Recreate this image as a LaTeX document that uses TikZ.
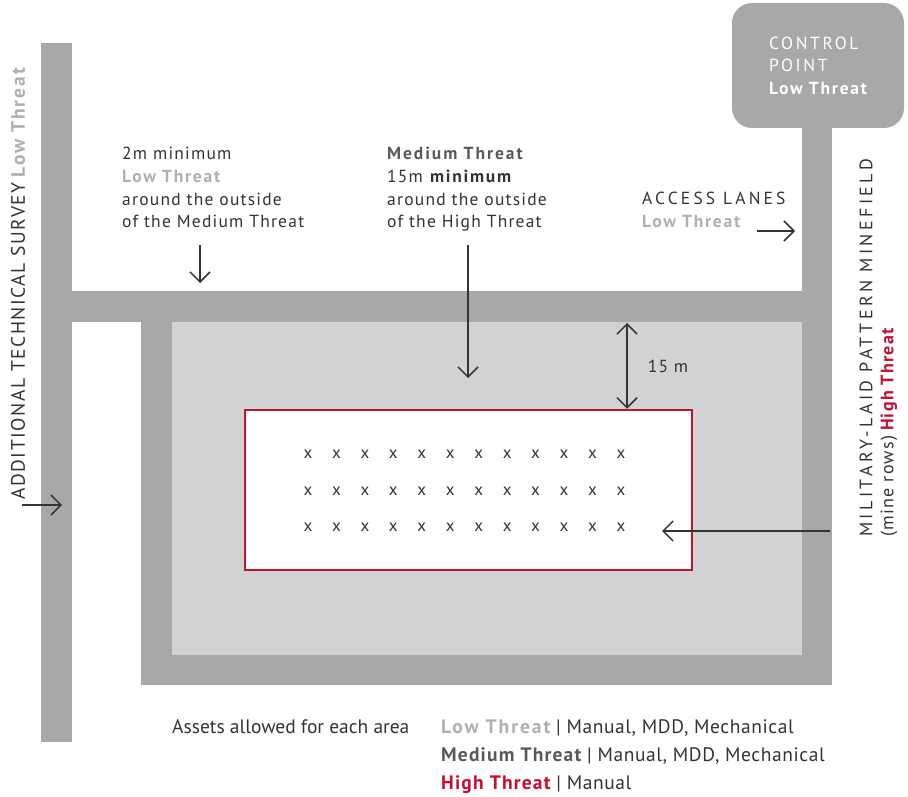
\documentclass[tikz,border=0pt]{standalone}
\usepackage{fontspec}
\setmainfont{PT Sans}
\usetikzlibrary{positioning, arrows.meta}
\definecolor{mgray}{HTML}{A7A8AA}
\definecolor{mlight}{HTML}{D1D2D4}
\definecolor{mred}{HTML}{C8102E}
\definecolor{mtext}{HTML}{333333}
\definecolor{mlow}{HTML}{AEB0B2}
\definecolor{mmed}{HTML}{58595B}
\newcommand{\spaced}[2]{{\addfontfeature{LetterSpace=#1}#2}}
\newcommand{\lowthreat}{\textcolor{mlow}{\bfseries\spaced{10}{Low Threat}}}
\tikzset{
  >={Straight Barb[length=10pt,width=20pt,line width=1.5pt]}, % open arrow heads
  band/.style={fill=mgray},
  light zone/.style={fill=mlight},
  cp box/.style={fill=mgray,rounded corners=20pt,minimum width=172,minimum height=125,
    text=white,align=left,font=\fontsize{17.5}{22.5}\selectfont},
  high zone/.style={draw=mred,fill=white,line width=2.5pt,minimum width=447,minimum height=160},
  label text/.style={text=mtext,align=left,font=\fontsize{17.5}{22.7}\selectfont\addfontfeature{LetterSpace=7}},
  side text/.style={text=mtext,rotate=90,anchor=west,font=\fontsize{18}{22}\selectfont},
  legend text/.style={text=mtext,align=left,font=\fontsize{19.5}{28}\selectfont\addfontfeature{LetterSpace=3}},
  mine/.style={text=mtext,font=\fontsize{17}{17}\selectfont},
  pointer/.style={->,line width=1.5pt,mtext}
}

\begin{document}
\begin{tikzpicture}[x=1pt, y=-1pt, every node/.style={inner sep=0pt}]
  \useasboundingbox (0,0) rectangle (908,797);

  % Lanes and zones
  \fill[band] (41,43) rectangle (72,742);
  \fill[band] (72,291) rectangle (832,322);
  \fill[band] (141,322) rectangle (832,685);
  \fill[light zone] (172,322) rectangle (802,655);
  \fill[band] (802,110) rectangle (832,322);
  \node[cp box] (cp) at (818,65.5)
    {\spaced{15}{CONTROL}\\\spaced{15}{POINT}\\{\bfseries\spaced{10}{Low Threat}}};

  % High threat area with mine rows
  \node[high zone] (hi) at (468.5,490) {};
  \foreach \row [count=\r] in {454,491,527}
    \foreach \c in {0,...,11}
      \node[mine] (m-\r-\c) at ({308+28.45*\c},\row) {x};

  % Labels
  \node[label text, anchor=north west] (lowtxt) at (122,147)
    {2m minimum\\\lowthreat\\around the outside\\of the Medium Threat};
  \node[label text, anchor=north west] (medtxt) at (387,147)
    {\textcolor{mmed}{\bfseries\spaced{11}{Medium Threat}}\\15m \textbf{\spaced{10}{minimum}}\\around the outside\\of the High Threat};
  \node[label text, anchor=north west] (access) at (642,192)
    {\spaced{18}{ACCESS LANES}\\\lowthreat};
  \node[label text] (gap) at (668,366) {15 m};
  \node[side text] (ats) at (18,500)
    {\fontsize{19.5}{22}\selectfont\spaced{8}{ADDITIONAL TECHNICAL SURVEY}\ \lowthreat};
  \node[side text] (mlp) at (866,537) {\spaced{19}{MILITARY-LAID PATTERN MINEFIELD}};
  \node[side text] (rows) at (889,537)
    {\spaced{7}{(mine rows)} \textcolor{mred}{\bfseries\spaced{7}{High Threat}}};

  % Legend
  \node[legend text, anchor=west, font=\fontsize{19.5}{28}\selectfont] (assets) at (172,727)
    {Assets allowed for each area};
  \node[legend text, anchor=north west] (levels) at (441,719)
    {\lowthreat{} | Manual, MDD, Mechanical\\
     \textcolor{mmed}{\bfseries\spaced{6}{Medium Threat}} | Manual, MDD, Mechanical\\
     \textcolor{mred}{\bfseries\spaced{6}{High Threat}} | Manual};

  % Arrows
  \coordinate (atsA) at (22,505);
  \coordinate (atsB) at (62,505);
  \coordinate (lowA) at (200,245);
  \coordinate (lowB) at (200,283);
  \coordinate (medA) at (468,245);
  \coordinate (medB) at (468,378);
  \coordinate (gapA) at (627,323);
  \coordinate (accA) at (757,231);
  \coordinate (accB) at (795,231);
  \coordinate (mineA) at (830,531);
  \coordinate (mineB) at (662,531);
  \draw[pointer] (atsA) -- (atsB);
  \draw[pointer] (lowA) -- (lowB);
  \draw[pointer] (medA) -- (medB);
  \draw[pointer,<->] (gapA) -- (hi.north -| gapA);
  \draw[pointer] (accA) -- (accB);
  \draw[pointer] (mineA) -- (mineB);

\end{tikzpicture}
\end{document}
